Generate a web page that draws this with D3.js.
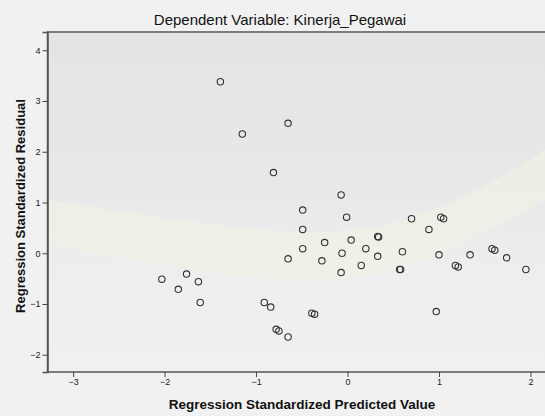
<!DOCTYPE html>
<html>
<head>
<meta charset="utf-8">
<script src="https://cdn.jsdelivr.net/npm/d3@7"></script>
<style>
  body { margin: 0; background: #f1f1f1; }
  svg { display: block; font-family: "Liberation Sans", Arial, sans-serif; }
</style>
</head>
<body>
<div id="chart"></div>
<script>
// standardized predicted value (x) and standardized residual (y), one entry per case
var predicted = [
  -1.39, -0.65, -1.15, -0.81, -0.49, -0.49, -0.49, -0.65,
  -0.07, -0.01, -0.25, 0.04, 0.33, 0.34, 0.20, -0.06,
  -0.28, 0.15, 0.33, -0.07, 0.60, 0.57, 0.58, 0.70,
  1.02, 1.05, 0.89, 1.00, 1.34, 1.58, 1.61, 1.74,
  1.95, 1.18, 1.21, 0.97, -0.39, -0.36, -2.03, -1.76,
  -1.63, -1.85, -1.61, -0.91, -0.84, -0.78, -0.75, -0.65
];
var residual = [
  3.38, 2.56, 2.35, 1.59, 0.85, 0.47, 0.09, -0.11,
  1.15, 0.71, 0.21, 0.26, 0.33, 0.32, 0.09, 0.00,
  -0.15, -0.24, -0.06, -0.38, 0.03, -0.32, -0.32, 0.68,
  0.71, 0.68, 0.47, -0.03, -0.03, 0.09, 0.06, -0.09,
  -0.32, -0.24, -0.27, -1.15, -1.18, -1.20, -0.51, -0.41,
  -0.56, -0.71, -0.97, -0.97, -1.06, -1.50, -1.53, -1.65
];
var xTicks = [-3, -2, -1, 0, 1, 2];
var yTicks = [-2, -1, 0, 1, 2, 3, 4];

var width = 545, height = 416;
var margin = {top: 32, right: -1, bottom: 44, left: 47.5};

var svg = d3.select('#chart').append('svg')
  .attr('width', width)
  .attr('height', height);

var defs = svg.append('defs');
var grad = defs.append('linearGradient')
  .attr('id', 'plotbg').attr('x1', 0).attr('y1', 0).attr('x2', 0).attr('y2', 1);
grad.append('stop').attr('offset', '0%').attr('stop-color', '#e4e4e6');
grad.append('stop').attr('offset', '45%').attr('stop-color', '#e8e8e9');
grad.append('stop').attr('offset', '70%').attr('stop-color', '#eeeeee');
grad.append('stop').attr('offset', '100%').attr('stop-color', '#f0f0f0');

var x = d3.scaleLinear()
  .domain([-3.28, 2.17])
  .range([margin.left, width - margin.right]);

var y = d3.scaleLinear()
  .domain([-2.34, 4.36])
  .range([height - margin.bottom, margin.top]);

// plot background
svg.append('rect')
  .attr('x', x.range()[0])
  .attr('y', y.range()[1])
  .attr('width', x.range()[1] - x.range()[0])
  .attr('height', y.range()[0] - y.range()[1])
  .attr('fill', 'url(#plotbg)');

// faint cream band of the watermark behind the points
svg.append('path')
  .attr('d', 'M48,200 C150,215 260,235 330,232 C420,228 480,190 545,150 L545,200 C480,235 420,275 330,280 C250,284 150,262 48,245 Z')
  .attr('fill', '#f3f1e4')
  .attr('opacity', 0.6);

// frame
svg.append('path')
  .attr('d', 'M' + x.range()[0] + ',' + y.range()[0] +
             'V' + y.range()[1] + 'H' + (width + 2))
  .attr('fill', 'none')
  .attr('stroke', '#555')
  .attr('stroke-width', 1.5);

var fmt = d3.format('d');

var xAxis = svg.append('g')
  .attr('transform', 'translate(0,' + y.range()[0] + ')')
  .call(d3.axisBottom(x).tickValues(xTicks).tickFormat(fmt).tickSize(5).tickPadding(2));

var yAxis = svg.append('g')
  .attr('transform', 'translate(' + x.range()[0] + ',0)')
  .call(d3.axisLeft(y).tickValues(yTicks).tickFormat(fmt).tickSize(5).tickPadding(2));

[xAxis, yAxis].forEach(function(g) {
  g.select('.domain').attr('stroke', '#555').attr('stroke-width', 1.5);
  g.selectAll('.tick line').attr('stroke', '#444');
  g.selectAll('.tick text')
    .attr('fill', '#222')
    .style('font-family', '"Liberation Sans", Arial, sans-serif')
    .style('font-size', '9px');
});
xAxis.select('.domain').attr('d', 'M' + x.range()[0] + ',0H' + (width + 2));

// points
svg.append('g')
  .selectAll('circle')
  .data(predicted)
  .enter()
  .append('circle')
    .attr('cx', function(d) { return x(d); })
    .attr('cy', function(d, i) { return y(residual[i]); })
    .attr('r', 3.2)
    .attr('fill', 'none')
    .attr('stroke', '#333')
    .attr('stroke-width', 1.1);

// titles
svg.append('text')
  .attr('x', 280)
  .attr('y', 25)
  .attr('text-anchor', 'middle')
  .attr('fill', '#111')
  .style('font-size', '15px')
  .text('Dependent Variable: Kinerja_Pegawai');

svg.append('text')
  .attr('x', 302)
  .attr('y', 409)
  .attr('text-anchor', 'middle')
  .attr('fill', '#111')
  .style('font-size', '13.5px')
  .style('font-weight', 'bold')
  .text('Regression Standardized Predicted Value');

svg.append('text')
  .attr('transform', 'translate(25,206) rotate(-90)')
  .attr('text-anchor', 'middle')
  .attr('fill', '#111')
  .style('font-size', '13px')
  .style('font-weight', 'bold')
  .text('Regression Standardized Residual');
</script>
</body>
</html>
